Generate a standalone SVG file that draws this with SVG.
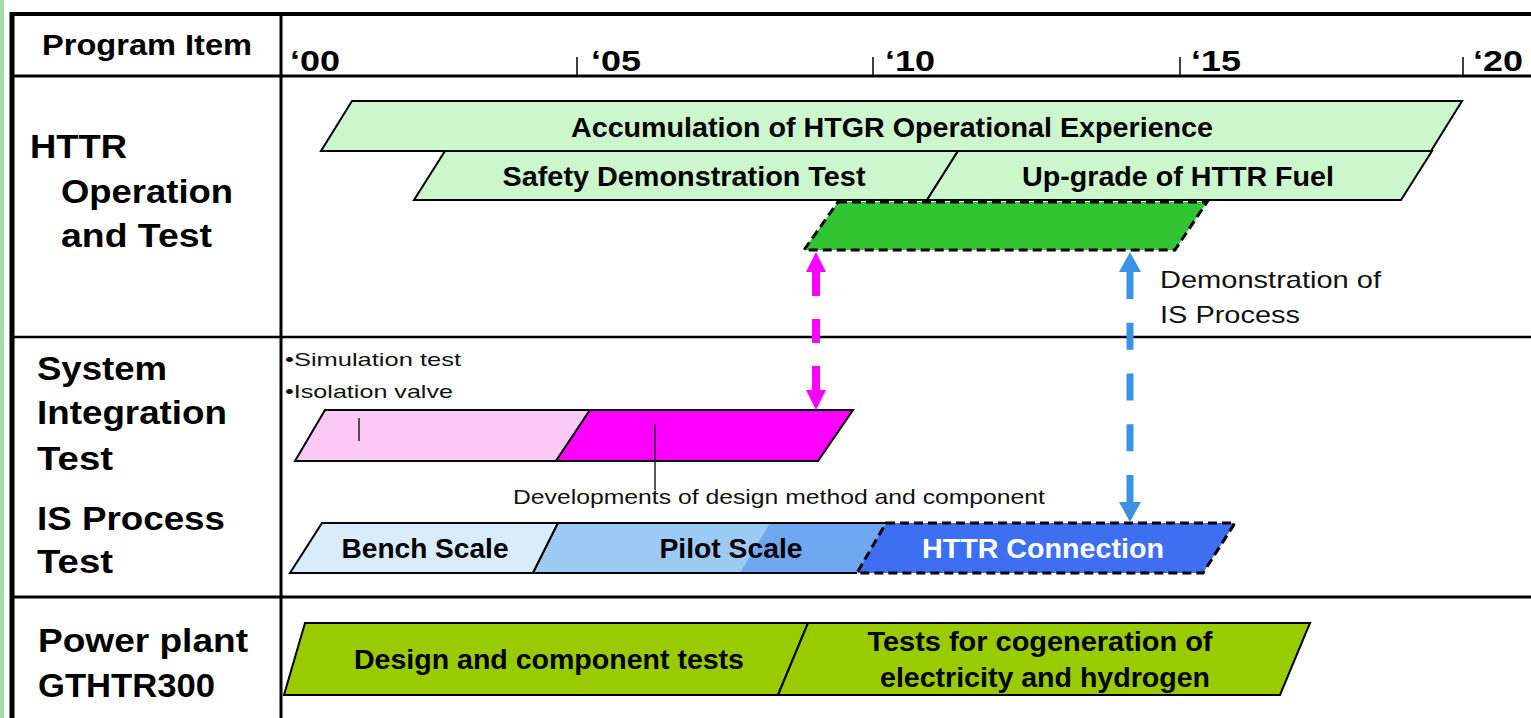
<svg xmlns="http://www.w3.org/2000/svg" width="1531" height="718" viewBox="0 0 1531 718">
<style>
.b{font-family:"Liberation Sans",Arial,sans-serif;font-weight:bold;fill:#000}
.r{font-family:"Liberation Sans",Arial,sans-serif;fill:#111}
.lbl{font-size:27px;text-anchor:middle}
.side{font-size:33px}
.yr{font-size:29px}
.bar{stroke:#000;stroke-width:2;stroke-linejoin:miter}
.dash{stroke:#000;stroke-width:3;stroke-dasharray:9 5;fill:none}
.grid{stroke:#000;fill:none}
</style>
<defs>
<marker id="hm" viewBox="0 0 20 20" refX="0" refY="10" markerWidth="20" markerHeight="20" markerUnits="userSpaceOnUse" orient="auto-start-reverse"><path d="M0,0 L20,10 L0,20 z" fill="#ff00ff"/></marker>
<marker id="hb" viewBox="0 0 20 22" refX="0" refY="11" markerWidth="20" markerHeight="22" markerUnits="userSpaceOnUse" orient="auto-start-reverse"><path d="M0,0 L20,11 L0,22 z" fill="#3b92e4"/></marker>
</defs>
<rect width="1531" height="718" fill="#fff"/>
<rect x="0" y="0" width="4" height="718" fill="#a6dba6"/>
<g id="table">
<line class="grid" x1="12" y1="14" x2="1531" y2="14" stroke-width="4"/>
<line class="grid" x1="12" y1="12" x2="12" y2="718" stroke-width="5"/>
<line class="grid" x1="281" y1="14" x2="281" y2="718" stroke-width="3"/>
<line class="grid" x1="12" y1="76" x2="1531" y2="76" stroke-width="3"/>
<line class="grid" x1="12" y1="337" x2="1531" y2="337" stroke-width="2.5"/>
<line class="grid" x1="12" y1="597" x2="1531" y2="597" stroke-width="3"/>
<line class="grid" x1="577" y1="57" x2="577" y2="76" stroke-width="1.5"/>
<line class="grid" x1="873" y1="57" x2="873" y2="76" stroke-width="1.5"/>
<line class="grid" x1="1180" y1="57" x2="1180" y2="76" stroke-width="1.5"/>
<line class="grid" x1="1463" y1="57" x2="1463" y2="76" stroke-width="1.5"/>
<text class="b" x="42" y="55" font-size="29" textLength="210" lengthAdjust="spacingAndGlyphs">Program Item</text>
<text class="b yr" x="290" y="71" textLength="50" lengthAdjust="spacingAndGlyphs">‘00</text>
<text class="b yr" x="591" y="71" textLength="50" lengthAdjust="spacingAndGlyphs">‘05</text>
<text class="b yr" x="885" y="71" textLength="50" lengthAdjust="spacingAndGlyphs">‘10</text>
<text class="b yr" x="1191" y="71" textLength="50" lengthAdjust="spacingAndGlyphs">‘15</text>
<text class="b yr" x="1473" y="71" textLength="50" lengthAdjust="spacingAndGlyphs">‘20</text>
</g>
<g id="label-httr">
<text class="b side" x="30" y="158" textLength="97" lengthAdjust="spacingAndGlyphs">HTTR</text>
<text class="b side" x="61" y="203" textLength="172" lengthAdjust="spacingAndGlyphs">Operation</text>
<text class="b side" x="61" y="247" textLength="151" lengthAdjust="spacingAndGlyphs">and Test</text>
</g>
<g id="label-sit">
<text class="b side" x="37" y="380" textLength="130" lengthAdjust="spacingAndGlyphs">System</text>
<text class="b side" x="37" y="424" textLength="190" lengthAdjust="spacingAndGlyphs">Integration</text>
<text class="b side" x="37" y="470" textLength="76" lengthAdjust="spacingAndGlyphs">Test</text>
</g>
<g id="label-isp">
<text class="b side" x="37" y="530" textLength="188" lengthAdjust="spacingAndGlyphs">IS Process</text>
<text class="b side" x="37" y="573" textLength="76" lengthAdjust="spacingAndGlyphs">Test</text>
</g>
<g id="label-power">
<text class="b side" x="38" y="652" textLength="210" lengthAdjust="spacingAndGlyphs">Power plant</text>
<text class="b side" x="38" y="697" textLength="177" lengthAdjust="spacingAndGlyphs">GTHTR300</text>
</g>
<g id="bar-accumulation">
<polygon class="bar" points="352,101 1462,101 1431,151 321,151" fill="#ccf6cc"/>
<text class="b lbl" x="892" y="137" textLength="642" lengthAdjust="spacingAndGlyphs">Accumulation of HTGR Operational Experience</text>
</g>
<g id="bar-safety">
<polygon class="bar" points="445,151 958,151 927,200 414,200" fill="#ccf6cc"/>
<text class="b lbl" x="684" y="186" textLength="363" lengthAdjust="spacingAndGlyphs">Safety Demonstration Test</text>
</g>
<g id="bar-upgrade">
<polygon class="bar" points="958,151 1432,151 1401,200 927,200" fill="#ccf6cc"/>
<text class="b lbl" x="1178" y="186" textLength="312" lengthAdjust="spacingAndGlyphs">Up-grade of HTTR Fuel</text>
</g>
<g id="bar-demo-is">
<polygon points="838,202 1207,202 1175,250 804,250" fill="#33c433"/>
<polygon class="dash" points="838,202 1207,202 1175,250 804,250"/>
<text class="r" x="1160" y="288" font-size="24" textLength="221" lengthAdjust="spacingAndGlyphs">Demonstration of</text>
<text class="r" x="1160" y="323" font-size="24" textLength="140" lengthAdjust="spacingAndGlyphs">IS Process</text>
</g>
<g id="bar-simulation">
<polygon class="bar" points="325,410 590,410 556,461 295,461" fill="#fcc8f6"/>
<line x1="359" y1="418" x2="359" y2="441" stroke="#222" stroke-width="1.5"/>
<text class="r" x="285" y="366" font-size="19" textLength="176" lengthAdjust="spacingAndGlyphs">•Simulation test</text>
<text class="r" x="285" y="398" font-size="19" textLength="168" lengthAdjust="spacingAndGlyphs">•Isolation valve</text>
</g>
<g id="bar-developments">
<polygon class="bar" points="590,410 853,410 818,461 556,461" fill="#ff00ff"/>
<line x1="655" y1="424" x2="655" y2="490" stroke="#222" stroke-width="1.5"/>
<text class="r" x="513" y="504" font-size="21" textLength="532" lengthAdjust="spacingAndGlyphs">Developments of design method and component</text>
</g>
<g id="bar-bench">
<polygon class="bar" points="322,523 558,523 533,573 290,573" fill="#d8ecfb"/>
<text class="b lbl" x="425" y="558" textLength="167" lengthAdjust="spacingAndGlyphs">Bench Scale</text>
</g>
<g id="bar-pilot">
<polygon points="558,523 886,523 857,573 533,573" fill="#9dcaf5"/>
<polygon points="770,523 886,523 857,573 740,573" fill="#6ea6f0"/>
<polyline class="bar" points="886,523 558,523 533,573 857,573" fill="none"/>
<text class="b lbl" x="731" y="558" textLength="143" lengthAdjust="spacingAndGlyphs">Pilot Scale</text>
</g>
<g id="bar-httr-connection">
<polygon points="886,523 1235,523 1203,573 857,573" fill="#3d6ff0"/>
<polygon class="dash" points="886,523 1235,523 1203,573 857,573"/>
<text class="b lbl" x="1043" y="558" fill="#fff" style="fill:#fff" textLength="242" lengthAdjust="spacingAndGlyphs">HTTR Connection</text>
</g>
<g id="bar-design">
<polygon class="bar" points="305,623 808,623 778,695 284,695" fill="#99cc00"/>
<text class="b lbl" x="549" y="669" textLength="390" lengthAdjust="spacingAndGlyphs">Design and component tests</text>
</g>
<g id="bar-cogeneration">
<polygon class="bar" points="808,623 1310,623 1280,695 778,695" fill="#99cc00"/>
<text class="b lbl" x="1040" y="651" textLength="345" lengthAdjust="spacingAndGlyphs">Tests for cogeneration of</text>
<text class="b lbl" x="1045" y="687" textLength="330" lengthAdjust="spacingAndGlyphs">electricity and hydrogen</text>
</g>
<g id="connectors">
<line x1="816" y1="272" x2="816" y2="390" stroke="#ff00ff" stroke-width="8" stroke-dasharray="24 23" marker-start="url(#hm)" marker-end="url(#hm)"/>
<line x1="1130" y1="272" x2="1130" y2="502" stroke="#3b92e4" stroke-width="7" stroke-dasharray="27 23.75" marker-start="url(#hb)" marker-end="url(#hb)"/>
</g>
</svg>
